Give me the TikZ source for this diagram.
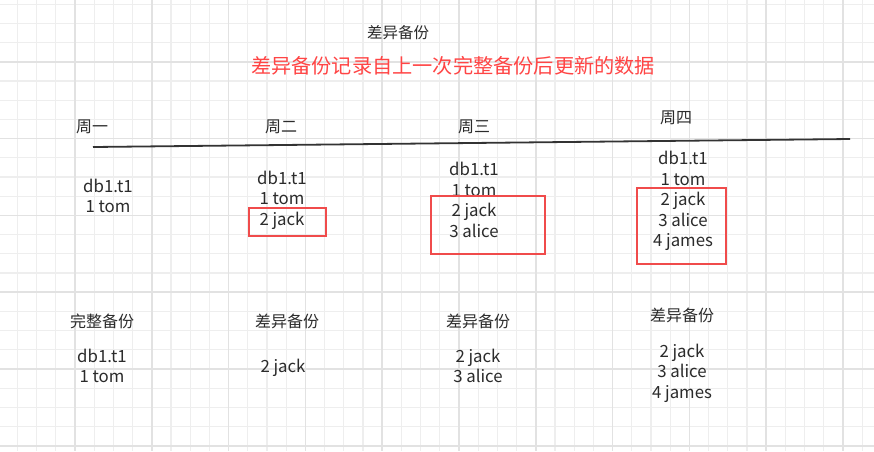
\documentclass[tikz,border=0pt]{standalone}
\usepackage{fontspec}
\setmainfont{Noto Sans CJK SC}
\usetikzlibrary{calc}
\definecolor{txtgray}{HTML}{2B2B2B}
\definecolor{titlered}{HTML}{FF4545}
\definecolor{boxred}{HTML}{F04B4B}
\definecolor{gridminor}{HTML}{EEEEEE}
\definecolor{gridmajor}{HTML}{E2E2E2}
\tikzset{
  lbl/.style={text=txtgray,font=\fontsize{16}{20.5}\selectfont,align=center,inner sep=0pt},
  rows/.style={lbl,font=\fontsize{16.8}{20.5}\selectfont},
  newbox/.style={draw=boxred,line width=1.8pt},
  timeline/.style={draw=black!80,line width=1.8pt}
}

\begin{document}
\begin{tikzpicture}[x=1pt,y=-1pt]
  \useasboundingbox (0,0) rectangle (874,451);
  \fill[white] (0,0) rectangle (874,451);
  % grid: minor every 19.2, major every 76.8
  \foreach \i in {0,...,44}
    \draw[gridminor,line width=1.1pt] ({17.4+19.2*\i},0)--({17.4+19.2*\i},451);
  \foreach \j in {0,...,23}
    \draw[gridminor,line width=1.1pt] (0,{4.2+19.2*\j})--(874,{4.2+19.2*\j});
  \foreach \i in {0,...,11}
    \draw[gridmajor,line width=1.5pt] ({-1.8+76.8*\i},0)--({-1.8+76.8*\i},451);
  \foreach \j in {1,...,6}
    \draw[gridmajor,line width=1.5pt] (0,{-15+76.8*\j})--(874,{-15+76.8*\j});
  % titles
  \node[lbl,font=\fontsize{15.5}{18}\selectfont] (title) at (398,33) {差异备份};
  \node[lbl,text=titlered,font=\fontsize{20.2}{24}\selectfont] (subtitle) at (453,66)
    {差异备份记录自上一次完整备份后更新的数据};
  % weekdays
  \node[lbl] (mon) at (92,127) {周一};
  \node[lbl] (tue) at (281,127) {周二};
  \node[lbl] (wed) at (474,127) {周三};
  \node[lbl] (thu) at (676,118) {周四};
  \coordinate (tl-start) at (93,147);
  \coordinate (tl-end) at (850,139);
  \draw[timeline] (tl-start) -- (tl-end);
  % table contents per day
  \node[rows] (data1) at (108,196) {db1.t1\\1 tom};
  \node[rows] (data2) at (282,200) {db1.t1\\1 tom\\2 jack};
  \node[rows] (data3) at (474,200) {db1.t1\\1 tom\\2 jack\\3 alice};
  \node[rows] (data4) at (683,201) {db1.t1\\1 tom\\2 jack\\3 alice\\4 james};
  % new rows since full backup
  \draw[newbox] (249,208) rectangle (326,236);
  \draw[newbox] (431,196) rectangle (545,254);
  \draw[newbox] (637,188) rectangle (726,264);
  % backups
  \node[lbl] (full) at (102,321) {完整备份};
  \node[rows] (full-data) at (102,366) {db1.t1\\1 tom};
  \node[lbl] (diff2) at (287,321) {差异备份};
  \node[rows] (diff2-data) at (283,368) {2 jack};
  \node[lbl] (diff3) at (478,321) {差异备份};
  \node[rows] (diff3-data) at (478,366) {2 jack\\3 alice};
  \node[lbl] (diff4) at (682,315) {差异备份};
  \node[rows] (diff4-data) at (682,373) {2 jack\\3 alice\\4 james};
\end{tikzpicture}
\end{document}
